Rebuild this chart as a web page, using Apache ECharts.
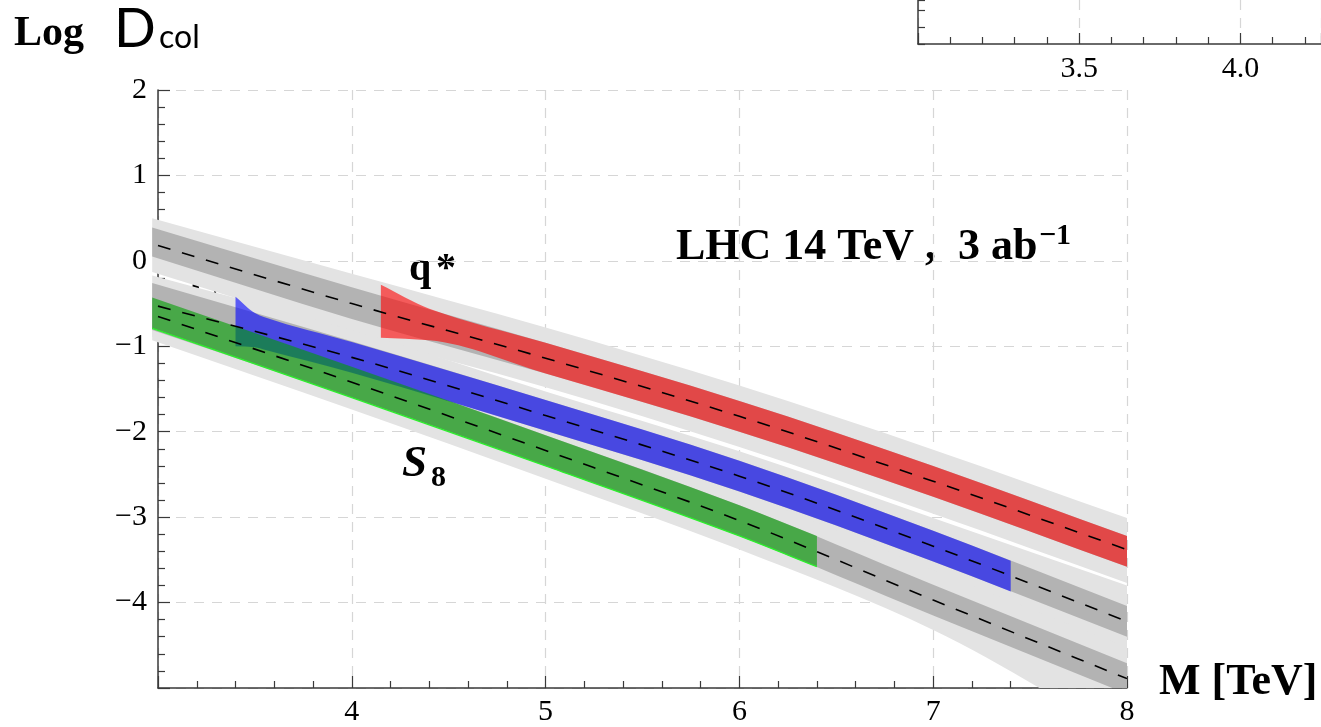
<!DOCTYPE html>
<html><head><meta charset="utf-8">
<script src="https://cdn.jsdelivr.net/npm/echarts@6/dist/echarts.min.js"></script>
<style>html,body{margin:0;padding:0;background:#fff}#c{width:1321px;height:727px}</style>
</head><body><div id="c"></div><script>
// ---- data ----
const bandM = [2.97, 4, 5, 6, 7, 8];
const lineM = [3, 4, 5, 6, 7, 8];

// q* curve
const qCenter  = [0.18, -0.50, -1.14, -1.82, -2.58, -3.38];
const qDarkHi  = [0.39, -0.31, -0.96, -1.64, -2.40, -3.22];
const qDarkLo  = [0.05, -0.68, -1.32, -2.00, -2.76, -3.58];
const qLightHi = [0.50, -0.15, -0.78, -1.46, -2.21, -3.01];
const qLightLo = [-0.13, -0.85, -1.48, -2.18, -2.96, -3.77];

// C curve
const cCenter  = [-0.53, -1.13, -1.81, -2.52, -3.34, -4.22];
const cDarkHi  = [-0.26, -0.94, -1.63, -2.34, -3.16, -4.04];
const cDarkLo  = [-0.80, -1.32, -1.99, -2.70, -3.52, -4.40];
const cLightHi = [-0.17, -0.81, -1.53, -2.23, -3.01, -3.80];
const cLightLo = [-0.89, -1.49, -2.16, -2.87, -3.70, -4.64];

// S8 curve
const sCenter  = [-0.65, -1.42, -2.22, -3.04, -3.97, -4.89];
const sDarkHi  = [-0.45, -1.24, -2.04, -2.86, -3.79, -4.71];
const sDarkLo  = [-0.81, -1.60, -2.40, -3.22, -4.15, -5.07];
const sLightHi = [-0.33, -1.08, -1.88, -2.70, -3.62, -4.52];
const sLightLo = [-0.93, -1.74, -2.55, -3.38, -4.32, -5.60];

// coloured bands
const redM  = [4.15, 4.4, 5, 6, 7, 8];
const redHi = [-0.28, -0.56, -0.96, -1.64, -2.40, -3.22];
const redLo = [-0.90, -0.93, -1.32, -2.00, -2.76, -3.58];

const blueM  = [3.4, 3.5, 3.55, 4, 5, 6, 7, 7.4];
const blueHi = [-0.42, -0.61, -0.66, -0.95, -1.63, -2.34, -3.16, -3.51];
const blueLo = [-1.00, -1.01, -1.04, -1.31, -1.99, -2.70, -3.52, -3.87];

const greenM  = [2.97, 4, 5, 6, 6.4];
const greenHi = [-0.43, -1.24, -2.04, -2.86, -3.22];
const greenLo = [-0.79, -1.60, -2.40, -3.22, -3.58];

// axes
const xTicks = [3, 4, 5, 6, 7, 8];
const yTicks = [-5, -4, -3, -2, -1, 0, 1, 2];
const insetX = [3.0, 3.5, 4.0];
const insetXMax = 4.25;

// ---- helpers ----
const LIGHT = '#e3e3e3', DARK = '#b3b3b3';

// monotone cubic (harmonic-mean tangents) through pixel points
function tangents(p) {
  const n = p.length, d = [], m = [];
  for (let i = 0; i < n - 1; i++) d.push((p[i + 1][1] - p[i][1]) / (p[i + 1][0] - p[i][0]));
  m[0] = d[0]; m[n - 1] = d[n - 2];
  for (let i = 1; i < n - 1; i++) m[i] = d[i - 1] * d[i] > 0 ? 2 * d[i - 1] * d[i] / (d[i - 1] + d[i]) : 0;
  return m;
}
function fwd(p) {
  const m = tangents(p); let s = '';
  for (let i = 0; i < p.length - 1; i++) {
    const h = p[i + 1][0] - p[i][0];
    s += ' C' + (p[i][0] + h / 3) + ',' + (p[i][1] + m[i] * h / 3) + ' ' +
         (p[i + 1][0] - h / 3) + ',' + (p[i + 1][1] - m[i + 1] * h / 3) + ' ' + p[i + 1][0] + ',' + p[i + 1][1];
  }
  return s;
}
function bwd(p) {
  const m = tangents(p); let s = '';
  for (let i = p.length - 2; i >= 0; i--) {
    const h = p[i + 1][0] - p[i][0];
    s += ' C' + (p[i + 1][0] - h / 3) + ',' + (p[i + 1][1] - m[i + 1] * h / 3) + ' ' +
         (p[i][0] + h / 3) + ',' + (p[i][1] + m[i] * h / 3) + ' ' + p[i][0] + ',' + p[i][1];
  }
  return s;
}
function clipOf(cs) {
  return { type: 'rect', shape: { x: cs.x - 8, y: cs.y, width: cs.width + 8, height: cs.height } };
}
function band(name, xs, lo, hi, color, z) {
  return {
    type: 'custom', name, z, silent: true, animation: false,
    data: xs.map((x, i) => [x, lo[i], hi[i]]),
    renderItem: function (params, api) {
      if (params.dataIndex !== 0) return;
      const top = xs.map((x, i) => api.coord([x, hi[i]]));
      const bot = xs.map((x, i) => api.coord([x, lo[i]]));
      const n = xs.length - 1;
      const d = 'M' + top[0][0] + ',' + top[0][1] + fwd(top) + ' L' + bot[n][0] + ',' + bot[n][1] + bwd(bot) + ' Z';
      return {
        type: 'group', clipPath: clipOf(params.coordSys),
        children: [{ type: 'path', shape: { pathData: d }, style: { fill: color, stroke: null } }]
      };
    }
  };
}
function curve(name, xs, ys, style, z) {
  return {
    type: 'custom', name, z, silent: true, animation: false,
    data: xs.map((x, i) => [x, ys[i]]),
    renderItem: function (params, api) {
      if (params.dataIndex !== 0) return;
      const p = xs.map((x, i) => api.coord([x, ys[i]]));
      const d = 'M' + p[0][0] + ',' + p[0][1] + fwd(p);
      return {
        type: 'group', clipPath: clipOf(params.coordSys),
        children: [{ type: 'path', shape: { pathData: d }, style: Object.assign({ fill: null }, style) }]
      };
    }
  };
}
const dashStyle = { stroke: '#000', lineWidth: 1.6, lineDash: [13, 12] };

const serif = '"Liberation Serif", "Times New Roman", serif';
const sans = 'Lato, "Open Sans", sans-serif';
const labelStyle = { fontFamily: serif, fontSize: 30, color: '#000' };
const fmt = v => (v < 0 ? '\u2212' + Math.abs(v) : String(v));
const axisCol = '#3a3a3a';

const chart = echarts.init(document.getElementById('c'), null, { renderer: 'canvas' });
chart.setOption({
  backgroundColor: '#fff',
  animation: false,
  grid: [
    { left: 158, top: 90, width: 969, height: 598 },
    { left: 918, top: 0, right: 0, height: 44 }
  ],
  xAxis: [
    {
      type: 'value', gridIndex: 0, min: xTicks[0], max: xTicks[xTicks.length - 1], interval: 1,
      axisLine: { onZero: false, lineStyle: { color: axisCol, width: 1.5 } },
      axisTick: { inside: true, length: 12, lineStyle: { color: axisCol, width: 1.2 } },
      minorTick: { show: true, splitNumber: 5, length: 7, lineStyle: { color: axisCol, width: 1.2 } },
      splitLine: { show: true, lineStyle: { color: '#d6d6d6', width: 1.2, type: [10, 8] } },
      axisLabel: Object.assign({ margin: 9, showMinLabel: false, formatter: fmt }, labelStyle)
    },
    {
      type: 'value', gridIndex: 1, min: insetX[0], max: insetXMax, interval: 0.5,
      axisLine: { onZero: false, lineStyle: { color: axisCol, width: 1.5 } },
      axisTick: { inside: true, length: 11, lineStyle: { color: axisCol, width: 1.2 } },
      minorTick: { show: true, splitNumber: 5, length: 7, lineStyle: { color: axisCol, width: 1.2 } },
      splitLine: { show: true, lineStyle: { color: '#d6d6d6', width: 1.2, type: [10, 8] } },
      axisLabel: Object.assign({ margin: 10, showMinLabel: false, showMaxLabel: false, formatter: v => v.toFixed(1) }, labelStyle)
    }
  ],
  yAxis: [
    {
      type: 'value', gridIndex: 0, min: yTicks[0], max: yTicks[yTicks.length - 1], interval: 1,
      axisLine: { show: true, onZero: false, lineStyle: { color: axisCol, width: 1.5 } },
      axisTick: { show: true, inside: true, length: 12, lineStyle: { color: axisCol, width: 1.2 } },
      minorTick: { show: true, splitNumber: 5, length: 7, lineStyle: { color: axisCol, width: 1.2 } },
      splitLine: { show: true, lineStyle: { color: '#d6d6d6', width: 1.2, type: [10, 8] } },
      axisLabel: Object.assign({ margin: 11, showMinLabel: false, formatter: fmt }, labelStyle)
    },
    {
      type: 'value', gridIndex: 1, min: 0, max: 2.6, interval: 1,
      axisLine: { show: true, onZero: false, lineStyle: { color: axisCol, width: 1.5 } },
      axisTick: { show: true, inside: true, length: 7, lineStyle: { color: axisCol, width: 1.2 } },
      splitLine: { show: false },
      axisLabel: { show: false }
    }
  ],
  series: [
    band('qLight', bandM, qLightLo, qLightHi, LIGHT, 1),
    band('cLight', bandM, cLightLo, cLightHi, LIGHT, 1),
    band('sLight', bandM, sLightLo, sLightHi, LIGHT, 1),
    band('qDark', bandM, qDarkLo, qDarkHi, DARK, 2),
    band('cDark', bandM, cDarkLo, cDarkHi, DARK, 2),
    band('sDark', bandM, sDarkLo, sDarkHi, DARK, 2),
    band('red', redM, redLo, redHi, 'rgba(255,0,0,0.6)', 3),
    band('blue', blueM, blueLo, blueHi, 'rgba(0,0,255,0.6)', 3),
    band('green', greenM, greenLo, greenHi, 'rgba(0,160,0,0.6)', 4),
    curve('greenEdge', greenM, greenLo, { stroke: '#2cf02c', lineWidth: 1.3 }, 5),
    curve('qCenter', lineM, qCenter, dashStyle, 10),
    curve('cCenter', lineM, cCenter, dashStyle, 10),
    curve('sCenter', lineM, sCenter, dashStyle, 10)
  ],
  graphic: [
    { type: 'text', x: 14, y: 34, style: { text: 'Log', fontFamily: serif, fontWeight: 'bold', fontSize: 42, fill: '#000', verticalAlign: 'middle' } },
    { type: 'text', x: 114, y: 29, style: { text: 'D', fontFamily: sans, fontSize: 55, fill: '#000', verticalAlign: 'middle' } },
    { type: 'text', x: 159, y: 38, style: { text: 'col', fontFamily: sans, fontSize: 32, fill: '#000', verticalAlign: 'middle' } },
    { type: 'text', x: 1159, y: 683, style: { text: 'M [TeV]', fontFamily: serif, fontWeight: 'bold', fontSize: 44, fill: '#000', verticalAlign: 'middle' } },
    { type: 'text', x: 409, y: 270, style: { text: 'q', fontFamily: serif, fontWeight: 'bold', fontSize: 40, fill: '#000', verticalAlign: 'middle' } },
    { type: 'text', x: 436, y: 270, style: { text: '*', fontFamily: serif, fontWeight: 'bold', fontSize: 40, fill: '#000', verticalAlign: 'middle' } },
    { type: 'text', x: 191, y: 287, style: { text: 'C', fontFamily: serif, fontWeight: 'bold', fontStyle: 'italic', fontSize: 42, fill: '#000', verticalAlign: 'middle' } },
    { type: 'text', x: 402, y: 464, style: { text: 'S', fontFamily: serif, fontWeight: 'bold', fontStyle: 'italic', fontSize: 45, fill: '#000', verticalAlign: 'middle' } },
    { type: 'text', x: 431, y: 478, style: { text: '8', fontFamily: serif, fontWeight: 'bold', fontSize: 30, fill: '#000', verticalAlign: 'middle' } },
    { type: 'text', x: 676, y: 248, style: { text: 'LHC 14 TeV ,  3 ab', fontFamily: serif, fontWeight: 'bold', fontSize: 44, fill: '#000', verticalAlign: 'middle' } },
    { type: 'text', x: 1039, y: 236, style: { text: '\u22121', fontFamily: serif, fontWeight: 'bold', fontSize: 30, fill: '#000', verticalAlign: 'middle' } }
  ]
});
</script></body></html>
